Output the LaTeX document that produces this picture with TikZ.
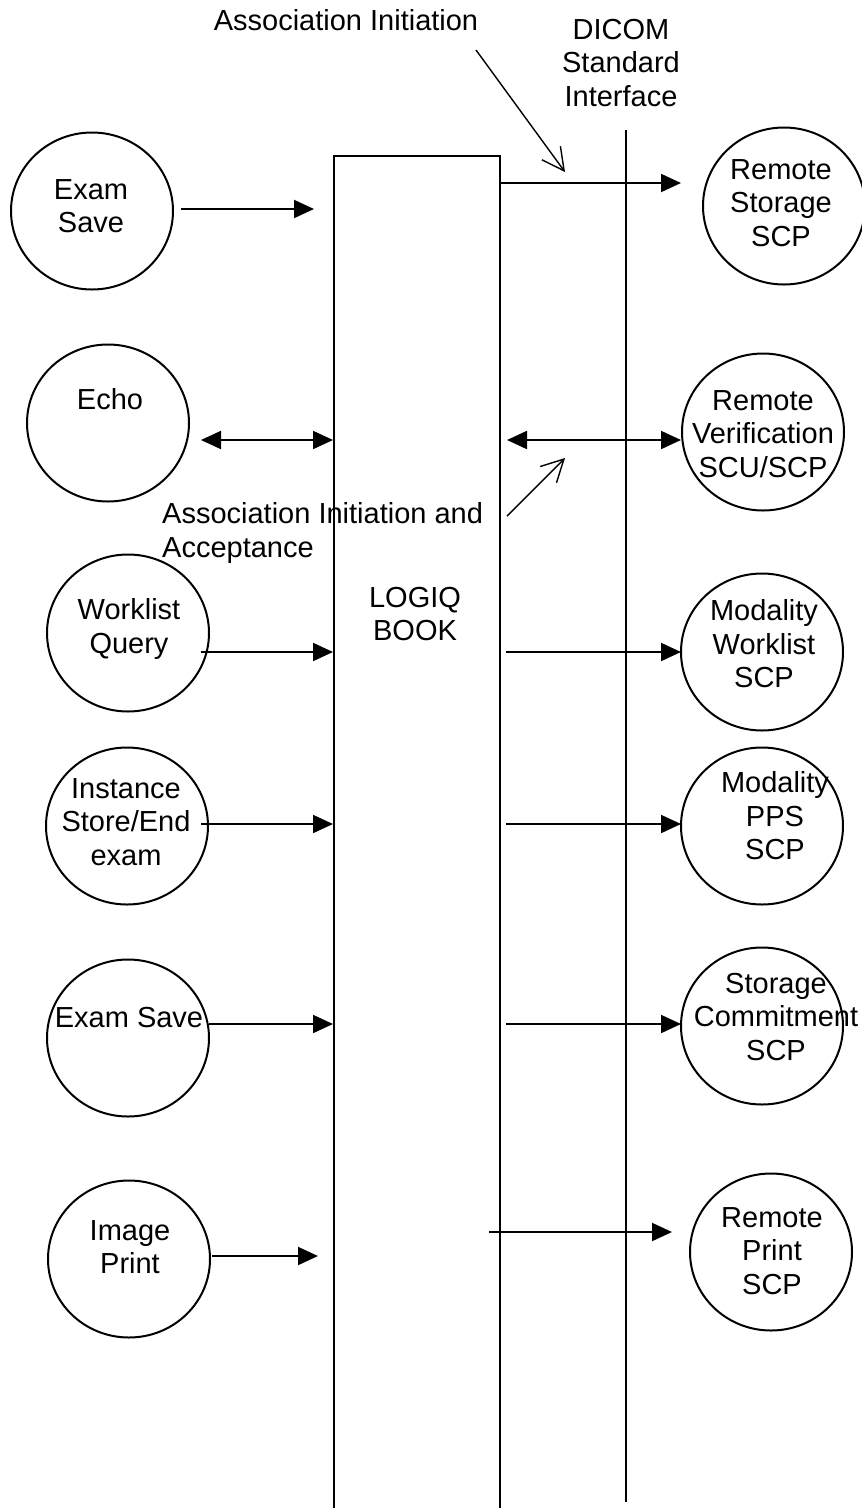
\documentclass[tikz,border=0pt]{standalone}
\usepackage{fontspec}
\setmainfont{Liberation Sans}
\usetikzlibrary{arrows.meta,shapes.geometric}

\tikzset{
  proc/.style={draw, ellipse, line width=2pt, minimum width=162pt, minimum height=157pt, inner sep=0pt},
  lbl/.style={align=center, inner sep=0pt},
  flow/.style={line width=2pt, -{Triangle[length=20pt,width=18pt]}},
  both/.style={line width=2pt, {Triangle[length=20pt,width=18pt]}-{Triangle[length=20pt,width=18pt]}},
  hint/.style={line width=1.4pt, -{Straight Barb[length=22pt,width=23pt]}}
}

\begin{document}
\begin{tikzpicture}[x=1pt,y=-1pt,font=\fontsize{29}{33.5}\selectfont]
  \useasboundingbox (0,0) rectangle (862,1508);

  % LOGIQ BOOK 主体(底边在图外)
  \node[draw, line width=2pt, minimum width=166pt, minimum height=1365pt, inner sep=0pt, anchor=north west] (book) at (333,155) {};
  \node[lbl] (booklbl) at (415,614) {LOGIQ\\BOOK};

  % DICOM 标准接口线
  \coordinate (dtop) at (626,130);
  \coordinate (dbot) at (626,1502);
  \draw[line width=2pt] (dtop) -- (dbot);
  \node[lbl] (dicom) at (621,63) {DICOM\\Standard\\Interface};

  % 左侧本地应用
  \node[proc] (save1) at (92,211) {};
  \node[lbl] (save1lbl) at (91,206) {Exam\\Save};
  \node[proc] (echo) at (108,423) {};
  \node[lbl] (echolbl) at (110,399) {Echo};
  \node[proc] (wlq) at (128,633) {};
  \node[lbl] (wlqlbl) at (129,629) {Worklist\\Query};
  \node[proc] (inst) at (127,826) {};
  \node[lbl] (instlbl) at (126,822) {Instance\\Store/End\\exam};
  \node[proc] (save2) at (128,1038) {};
  \node[lbl] (save2lbl) at (129,1018) {Exam Save};
  \node[proc] (img) at (129,1259) {};
  \node[lbl] (imglbl) at (130,1247) {Image\\Print};

  % 右侧远端应用
  \node[proc] (rstore) at (784,206) {};
  \node[lbl] (rstorelbl) at (781,203) {Remote\\Storage\\SCP};
  \node[proc] (rver) at (763,432) {};
  \node[lbl] (rverlbl) at (763,434) {Remote\\Verification\\SCU/SCP};
  \node[proc] (mwl) at (762,652) {};
  \node[lbl] (mwllbl) at (764,644) {Modality\\Worklist\\SCP};
  \node[proc] (mpps) at (762,826) {};
  \node[lbl] (mppslbl) at (775,816) {Modality\\PPS\\SCP};
  \node[proc] (stc) at (762,1026) {};
  \node[lbl] (stclbl) at (776,1017) {Storage\\Commitment\\SCP};
  \node[proc] (rprint) at (771,1252) {};
  \node[lbl] (rprintlbl) at (772,1251) {Remote\\Print\\SCP};

  % 箭头端点
  \coordinate (save1a) at (181,209);  \coordinate (save1b) at (314,209);
  \coordinate (echoa) at (201,440);   \coordinate (echob) at (333,440);
  \coordinate (wlqa) at (201,652);    \coordinate (wlqb) at (333,652);
  \coordinate (insta) at (201,824);   \coordinate (instb) at (333,824);
  \coordinate (save2a) at (209,1024); \coordinate (save2b) at (333,1024);
  \coordinate (imga) at (212,1256);   \coordinate (imgb) at (318,1256);

  \coordinate (rstorea) at (499,183); \coordinate (rstoreb) at (681,183);
  \coordinate (rvera) at (507,440);   \coordinate (rverb) at (681,440);
  \coordinate (mwla) at (506,652);    \coordinate (mwlb) at (681,652);
  \coordinate (mppsa) at (506,824);   \coordinate (mppsb) at (681,824);
  \coordinate (stca) at (506,1024);   \coordinate (stcb) at (681,1024);
  \coordinate (rprinta) at (489,1232); \coordinate (rprintb) at (672,1232);

  \draw[flow] (save1a) -- (save1b);
  \draw[both] (echoa) -- (echob);
  \draw[flow] (wlqa) -- (wlqb);
  \draw[flow] (insta) -- (instb);
  \draw[flow] (save2a) -- (save2b);
  \draw[flow] (imga) -- (imgb);

  \draw[flow] (rstorea) -- (rstoreb);
  \draw[both] (rvera) -- (rverb);
  \draw[flow] (mwla) -- (mwlb);
  \draw[flow] (mppsa) -- (mppsb);
  \draw[flow] (stca) -- (stcb);
  \draw[flow] (rprinta) -- (rprintb);

  % 关联说明
  \node[lbl] (assoc) at (346,20) {Association Initiation};
  \coordinate (assoca) at (476,50);
  \coordinate (assocb) at (565,172);
  \draw[hint] (assoca) -- (assocb);

  \node[lbl, align=left, anchor=west] (accept) at (162,533) {Association Initiation and\\Acceptance};
  \coordinate (accepta) at (507,516);
  \coordinate (acceptb) at (565,458);
  \draw[hint] (accepta) -- (acceptb);
\end{tikzpicture}
\end{document}
